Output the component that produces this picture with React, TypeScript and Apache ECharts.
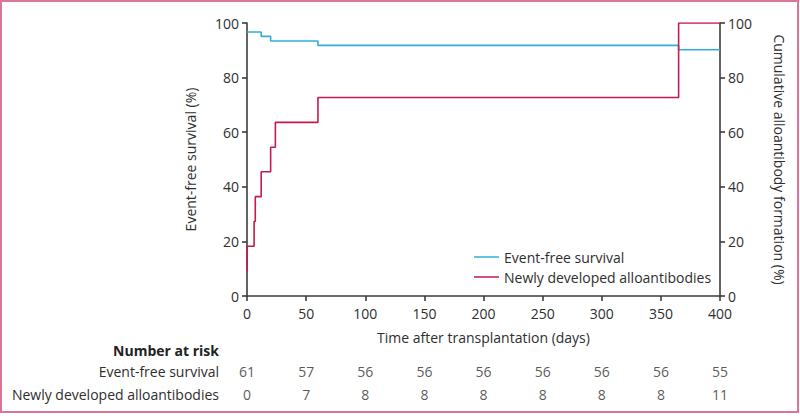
import React, { useEffect, useRef } from "react";
import * as echarts from "echarts";

const FONT = "'Open Sans', 'Noto Sans', sans-serif";
const TXT = "#2e2e2e";
const AXIS = "#3d3d3d";
const BLUE = "#2fb0d8";
const RED = "#c41a4c";

// Kaplan-Meier style step data
const efsTime = [0, 12, 20, 60, 365, 400];
const efsValue = [96.7, 95.1, 93.4, 91.8, 90.2, 90.2];
const alloTime = [0, 0, 6, 7, 12, 20, 24, 60, 365, 400];
const alloValue = [9.1, 18.2, 27.3, 36.4, 45.5, 54.5, 63.6, 72.7, 100, 100];

// Number at risk
const riskDays = [0, 50, 100, 150, 200, 250, 300, 350, 400];
const riskEFS = [61, 57, 56, 56, 56, 56, 56, 56, 55];
const riskAllo = [0, 7, 8, 8, 8, 8, 8, 8, 11];
const riskRows = ["Event-free survival", "Newly developed alloantibodies"];

export default function App() {
  const ref = useRef<HTMLDivElement>(null);
  useEffect(() => {
    if (!ref.current) return;
    const chart = echarts.init(ref.current, null, { renderer: "svg" });
    const riskData: any[] = [];
    riskDays.forEach((d, i) => {
      riskData.push([d, riskRows[0], riskEFS[i]]);
      riskData.push([d, riskRows[1], riskAllo[i]]);
    });
    const axisCommon = {
      axisLine: { show: true, lineStyle: { color: AXIS, width: 1.6 } },
      axisTick: { show: true, length: 5, lineStyle: { color: AXIS, width: 1.6 } },
      axisLabel: { color: TXT, fontSize: 14, fontFamily: FONT },
      splitLine: { show: false },
    };
    chart.setOption({
      animation: false,
      backgroundColor: "#ffffff",
      textStyle: { fontFamily: FONT },
      grid: [
        { left: 247, right: 80, top: 23, bottom: 122 },
        { left: 247, right: 80, top: 360, height: 46 },
      ],
      xAxis: [
        {
          type: "value",
          gridIndex: 0,
          min: 0,
          max: 400,
          interval: 50,
          ...axisCommon,
          axisLabel: { ...axisCommon.axisLabel, margin: 10 },
          name: "Time after transplantation (days)",
          nameLocation: "middle",
          nameGap: 34,
          nameTextStyle: { color: TXT, fontSize: 14, fontFamily: FONT },
        },
        {
          type: "value",
          gridIndex: 1,
          min: 0,
          max: 400,
          show: false,
        },
      ],
      yAxis: [
        {
          type: "value",
          gridIndex: 0,
          min: 0,
          max: 100,
          interval: 20,
          position: "left",
          ...axisCommon,
          name: "Event-free survival (%)",
          nameLocation: "middle",
          nameRotate: 90,
          nameGap: 50,
          nameTextStyle: { color: TXT, fontSize: 14, fontFamily: FONT },
        },
        {
          type: "value",
          gridIndex: 0,
          min: 0,
          max: 100,
          interval: 20,
          position: "right",
          ...axisCommon,
          name: "Cumulative alloantibody formation (%)",
          nameLocation: "middle",
          nameRotate: -90,
          nameGap: 52,
          nameTextStyle: { color: TXT, fontSize: 14, fontFamily: FONT },
        },
        {
          type: "category",
          gridIndex: 1,
          data: riskRows,
          inverse: true,
          axisLine: { show: false },
          axisTick: { show: false },
          axisLabel: { color: TXT, fontSize: 14, fontFamily: FONT, margin: 28 },
        },
      ],
      legend: {
        orient: "vertical",
        left: 469,
        top: 245,
        icon: "rect",
        itemWidth: 25,
        itemHeight: 1.5,
        itemGap: 6,
        textStyle: { color: TXT, fontSize: 14, fontFamily: FONT },
        data: ["Event-free survival", "Newly developed alloantibodies"],
      },
      graphic: [
        {
          type: "rect",
          shape: { x: 1, y: 1, width: 797, height: 411 },
          style: { fill: "none", stroke: "#d9759b", lineWidth: 2 },
          silent: true,
        },
        {
          type: "text",
          x: 219,
          y: 350,
          style: {
            text: "Number at risk",
            fill: "#222",
            font: `bold 14px ${FONT}`,
            textAlign: "right",
            textVerticalAlign: "middle",
          },
        },
      ],
      series: [
        {
          name: "Event-free survival",
          type: "line",
          xAxisIndex: 0,
          yAxisIndex: 0,
          step: "end",
          symbol: "none",
          lineStyle: { color: BLUE, width: 1.6 },
          itemStyle: { color: BLUE },
          data: efsTime.map((t, i) => [t, efsValue[i]]),
        },
        {
          name: "Newly developed alloantibodies",
          type: "line",
          xAxisIndex: 0,
          yAxisIndex: 1,
          step: "end",
          symbol: "none",
          lineStyle: { color: RED, width: 1.6 },
          itemStyle: { color: RED },
          data: alloTime.map((t, i) => [t, alloValue[i]]),
        },
        {
          name: "risk",
          type: "scatter",
          xAxisIndex: 1,
          yAxisIndex: 2,
          symbolSize: 1,
          itemStyle: { color: "rgba(0,0,0,0)" },
          label: {
            show: true,
            position: "inside",
            color: TXT,
            fontSize: 14,
            fontFamily: FONT,
            formatter: (p: any) => String(p.data[2]),
          },
          data: riskData,
        },
      ],
    });
    return () => chart.dispose();
  }, []);
  return (
    <div
      ref={ref}
      style={{ position: "absolute", left: 0, top: 0, width: 800, height: 418 }}
    />
  );
}
